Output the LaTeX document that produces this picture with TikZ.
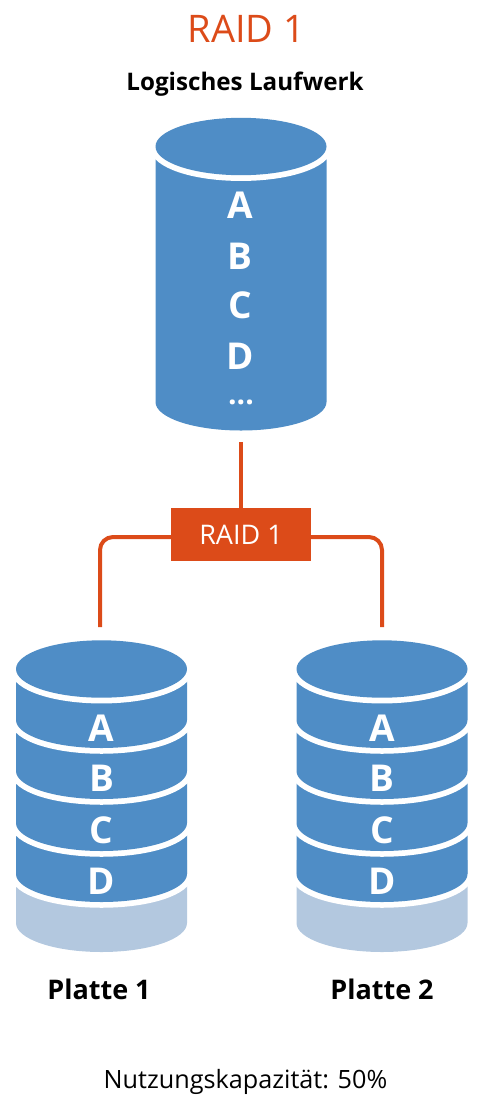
\documentclass[tikz,border=0pt]{standalone}
\usepackage{fontspec}
\setmainfont{Open Sans}
\definecolor{diskblue}{HTML}{4F8DC6}
\definecolor{diskgrey}{HTML}{B3C8DF}
\definecolor{raidorange}{HTML}{DC4B19}
\tikzset{
  diskfill/.style={fill=diskblue,preaction={draw=white,line width=11.5pt}},
  bandline/.style={draw=white,line width=11.5pt},
  raidline/.style={draw=raidorange,line width=4pt},
  disklabel/.style={text=white,font=\fontsize{37}{40}\selectfont\fontseries{sb}\selectfont,inner sep=0pt},
  biglabel/.style={disklabel},
  capt/.style={text=black,font=\fontsize{27}{30}\bfseries,inner sep=0pt},
}
\newcommand{\disklayer}[4]{% cx, top of side, side bottom y, ry
  \path[bandline] (#1-85.5,#3) arc[start angle=180,end angle=360,x radius=85.5pt,y radius=#4 pt];
  \path[fill=diskblue] (#1-85.5,#2) -- (#1-85.5,#3) arc[start angle=180,end angle=360,x radius=85.5pt,y radius=#4 pt] -- (#1+85.5,#2) -- cycle;
}
\newcommand{\disktop}[2]{% cx, centre y
  \path[diskfill] (#1,#2) ellipse[x radius=85.5pt,y radius=28.7pt];
}
\begin{document}
\begin{tikzpicture}[x=1pt,y=-1pt]
\useasboundingbox (0,0) rectangle (482,1104);
% big cylinder
\disklayer{241}{146.5}{402}{28.5}
\disktop{241}{146.5}
\node[biglabel] (la) at (240,205) {A};
\node[biglabel] (lb) at (240,256) {B};
\node[biglabel] (lc) at (240,305) {C};
\node[biglabel] (ld) at (240,356) {D};
\node[text=white,font=\fontsize{30}{32}\bfseries,inner sep=0pt] (le) at (241,402) {...};
% disks
\foreach \n/\cx/\tx/\lx/\cap in {p/101.5/101.5/99/Platte 1,q/382/382/382/Platte 2}{
  \path[fill=diskgrey] (\cx-85.5,860) -- (\cx-85.5,923) arc[start angle=180,end angle=360,x radius=85.5pt,y radius=29pt] -- (\cx+85.5,860) -- cycle;
  \disklayer{\cx}{823}{874}{28}
  \disklayer{\cx}{771}{823}{28}
  \disklayer{\cx}{720}{771}{28}
  \disklayer{\cx}{669}{720}{28}
  \disktop{\cx}{669}
  \node[disklabel] (\n a) at (\tx,728) {A};
  \node[disklabel] (\n b) at (\tx,778) {B};
  \node[disklabel] (\n c) at (\tx,830) {C};
  \node[disklabel] (\n d) at (\tx,881) {D};
  \node[capt] (\n t) at (\lx,989) {\cap};
}
% title texts
\node[text=raidorange,font=\fontsize{38}{40}\selectfont,inner sep=0pt] (title) at (246.5,29) {RAID 1};
\node[text=black,font=\fontsize{24.2}{28}\bfseries,inner sep=0pt] (sub) at (245,84) {Logisches Laufwerk};
\node[text=black,font=\fontsize{25.2}{28}\selectfont,inner sep=0pt] (cap) at (245.5,1082) {Nutzungskapazität: 50\%};
% controller
\node[fill=raidorange,text=white,minimum width=139.5pt,minimum height=53pt,inner sep=0pt,font=\fontsize{27}{30}\selectfont] (box) at (241,534.5) {RAID 1};
\coordinate (top) at (241,442);
\coordinate (lend) at (100,627);
\coordinate (rend) at (382,627);
\draw[raidline] (top) -- (box.north);
\draw[raidline,rounded corners=13pt] ([yshift=-2.5pt]box.west) -| (lend);
\draw[raidline,rounded corners=13pt] ([yshift=-2.5pt]box.east) -| (rend);
\end{tikzpicture}
\end{document}
